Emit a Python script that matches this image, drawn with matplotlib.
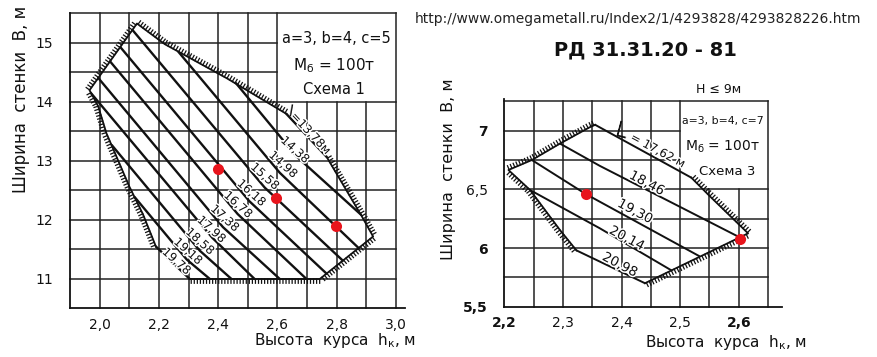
import matplotlib
matplotlib.use("Agg")
import matplotlib.pyplot as plt
from matplotlib import patheffects as pe

INK = "#111111"
GRID = "#222222"
DOT = "#e8141c"

# ---------------- Схема 1 (left nomogram) ----------------
S1_XTICKS = [2.0, 2.2, 2.4, 2.6, 2.8, 3.0]
S1_XTICKLABELS = ["2,0", "2,2", "2,4", "2,6", "2,8", "3,0"]
S1_YTICKS = [11, 12, 13, 14, 15]
S1_YTICKLABELS = ["11", "12", "13", "14", "15"]
S1_GRID_X = [2.0, 2.1, 2.2, 2.3, 2.4, 2.5, 2.6, 2.7, 2.8, 2.9, 3.0]
S1_GRID_Y = [11.0, 11.5, 12.0, 12.5, 13.0, 13.5, 14.0, 14.5, 15.0, 15.5]

# hatched boundary pieces (walked clockwise)
S1_EDGE_A_X = [2.19, 2.146, 2.10, 2.023, 1.995, 1.966, 2.126, 2.22, 2.43, 2.63]
S1_EDGE_A_Y = [11.55, 12.10, 12.57, 13.47, 13.93, 14.20, 15.33, 14.98, 14.40, 13.80]
S1_EDGE_B_X = [2.766, 2.885, 2.923, 2.743, 2.304]
S1_EDGE_B_Y = [13.07, 12.06, 11.72, 11.00, 11.00]

# lines of constant L, m
S1_L_LABELS = ["13,78", "14,38", "14,98", "15,58", "16,18", "16,78",
               "17,38", "17,98", "18,58", "19,18", "19,78"]
S1_LINES_X = [
    [2.63, 2.766],
    [2.46, 2.664, 2.882],
    [2.266, 2.608, 2.875],
    [2.111, 2.557, 2.821],
    [2.070, 2.505, 2.766],
    [2.035, 2.466, 2.698],
    [1.995, 2.416, 2.608],
    [1.971, 2.380, 2.523],
    [2.041, 2.338, 2.445],
    [2.118, 2.294, 2.372],
    [2.19, 2.304],
]
S1_LINES_Y = [
    [13.80, 13.07],
    [14.32, 13.08, 12.09],
    [14.85, 12.80, 11.52],
    [15.22, 12.55, 11.31],
    [14.93, 12.32, 11.09],
    [14.69, 12.10, 11.00],
    [14.41, 11.88, 11.00],
    [14.15, 11.70, 11.00],
    [13.27, 11.48, 11.00],
    [12.39, 11.33, 11.00],
    [11.55, 11.00],
]
S1_LABEL_X = [2.712, 2.659, 2.619, 2.557, 2.512, 2.467, 2.422, 2.377, 2.338, 2.298, 2.259]
S1_LABEL_Y = [13.47, 13.19, 12.94, 12.74, 12.46, 12.26, 12.03, 11.84, 11.64, 11.47, 11.30]

S1_DOTS_X = [2.40, 2.595, 2.797]
S1_DOTS_Y = [12.87, 12.38, 11.89]

# ---------------- Схема 3 (right nomogram) ----------------
S3_XTICKS = [2.2, 2.3, 2.4, 2.5, 2.6]
S3_XTICKLABELS = ["2,2", "2,3", "2,4", "2,5", "2,6"]
S3_YTICKS = [5.5, 6.0, 6.5, 7.0]
S3_YTICKLABELS = ["5,5", "6", "6,5", "7"]
S3_GRID_X = [2.25, 2.3, 2.35, 2.4, 2.45, 2.5, 2.55, 2.6, 2.65]
S3_GRID_Y = [5.75, 6.0, 6.25, 6.5, 6.75, 7.0, 7.25]

S3_EDGE_A_X = [2.323, 2.295, 2.244, 2.207, 2.247, 2.295, 2.346, 2.355]
S3_EDGE_A_Y = [5.98, 6.153, 6.494, 6.665, 6.75, 6.89, 7.03, 7.05]
S3_EDGE_B_X = [2.519, 2.551, 2.616, 2.44]
S3_EDGE_B_Y = [6.60, 6.44, 6.125, 5.70]

S3_L_LABELS = ["17,62", "18,46", "19,30", "20,14", "20,98"]
S3_LINES_X = [
    [2.355, 2.519],
    [2.295, 2.363, 2.602],
    [2.247, 2.339, 2.533],
    [2.244, 2.363, 2.485],
    [2.323, 2.44],
]
S3_LINES_Y = [
    [7.05, 6.60],
    [6.89, 6.70, 6.09],
    [6.75, 6.46, 5.93],
    [6.494, 6.168, 5.81],
    [5.98, 5.70],
]
S3_LABEL_X = [2.462, 2.443, 2.423, 2.409, 2.397]
S3_LABEL_Y = [6.83, 6.55, 6.31, 6.08, 5.855]

S3_DOTS_X = [2.339, 2.602]
S3_DOTS_Y = [6.46, 6.077]

HALO = [pe.withStroke(linewidth=2.2, foreground="white")]


def draw_grid(ax, gx, gy, box):
    """Grid with a blank rectangle left for the legend text (box = x0, x1, y0, y1)."""
    bx0, bx1, by0, by1 = box
    y0 = ax.get_ylim()[0]
    x0 = ax.get_xlim()[0]
    for x in gx:
        top = by0 if bx0 < x < bx1 else max(gy)
        ax.plot([x, x], [y0, top], color=GRID, lw=1.1, zorder=1, clip_on=False)
    for y in gy:
        right = bx0 if by0 < y < by1 else max(gx)
        ax.plot([x0, right], [y, y], color=GRID, lw=1.1, zorder=1, clip_on=False)


def hatched(ax, xs, ys):
    ax.plot(xs, ys, color=INK, lw=1.3, zorder=3, clip_on=False,
            path_effects=[pe.withTickedStroke(spacing=2.2, angle=90, length=1.4, linewidth=0.9)])


def style_axes(ax, xticks, xlabels, yticks, ylabels, ypad):
    for side in ("top", "right"):
        ax.spines[side].set_visible(False)
    for side in ("left", "bottom"):
        ax.spines[side].set_color(INK)
        ax.spines[side].set_linewidth(1.3)
    ax.set_xticks(xticks, xlabels)
    ax.set_yticks(yticks, ylabels)
    ax.tick_params(axis="both", length=0, labelsize=10, colors=INK)
    ax.tick_params(axis="x", pad=7)
    ax.tick_params(axis="y", pad=ypad)


def draw_lines(ax, lines_x, lines_y, lw):
    for xs, ys in zip(lines_x, lines_y):
        ax.plot(xs, ys, color=INK, lw=lw, zorder=4, solid_capstyle="round")


def main():
    fig = plt.figure(figsize=(8.78, 3.57), dpi=100)

    # ---- left ----
    ax1 = fig.add_axes([0.0797, 0.1359, 0.3814, 0.8263])
    ax1.set_xlim(1.9, 3.03)
    ax1.set_ylim(10.5, 15.5)
    style_axes(ax1, S1_XTICKS, S1_XTICKLABELS, S1_YTICKS, S1_YTICKLABELS, 12)
    draw_grid(ax1, S1_GRID_X, S1_GRID_Y, (2.6, 3.0, 14.0, 15.5))
    hatched(ax1, S1_EDGE_A_X, S1_EDGE_A_Y)
    hatched(ax1, S1_EDGE_B_X, S1_EDGE_B_Y)
    draw_lines(ax1, S1_LINES_X, S1_LINES_Y, 1.7)
    for i, (lab, x, y) in enumerate(zip(S1_L_LABELS, S1_LABEL_X, S1_LABEL_Y)):
        txt = "=" + lab + "м" if i == 0 else lab
        ax1.text(x, y, txt, rotation=-47 if i == 0 else -42, fontsize=8.5,
                 ha="center", va="center", color=INK, zorder=5, rotation_mode="anchor",
                 path_effects=HALO)
    ax1.text(2.652, 13.83, "L", fontsize=11, ha="center", va="center", color=INK, rotation=-10)
    ax1.plot(S1_DOTS_X, S1_DOTS_Y, "o", color=DOT, ms=8, mec="none", zorder=6)
    ax1.text(2.80, 15.08, "a=3, b=4, c=5", fontsize=10.5, ha="center", va="center", color=INK)
    ax1.text(2.79, 14.62, "M$_\\mathregular{б}$ = 100т", fontsize=11, ha="center", va="center", color=INK)
    ax1.text(2.79, 14.21, "Схема 1", fontsize=10.5, ha="center", va="center", color=INK)
    ax1.set_xlabel("Высота  курса  h$_\\mathregular{к}$, м", fontsize=11, color=INK)
    ax1.xaxis.set_label_coords(0.79, -0.075)
    ax1.set_ylabel("Ширина  стенки  В, м", fontsize=12, color=INK)
    ax1.yaxis.set_label_coords(-0.118, 0.71)

    # ---- right ----
    ax3 = fig.add_axes([0.5744, 0.1409, 0.3157, 0.5818])
    ax3.set_xlim(2.2, 2.673)
    ax3.set_ylim(5.5, 7.27)
    style_axes(ax3, S3_XTICKS, S3_XTICKLABELS, S3_YTICKS, S3_YTICKLABELS, 12)
    for t in ax3.get_xticklabels():
        if t.get_text() in ("2,2", "2,6"):
            t.set_fontweight("bold")
    for t in ax3.get_yticklabels():
        if t.get_text() in ("7", "6", "5,5"):
            t.set_fontweight("bold")
    draw_grid(ax3, S3_GRID_X, S3_GRID_Y, (2.5, 2.65, 6.5, 7.25))
    hatched(ax3, S3_EDGE_A_X, S3_EDGE_A_Y)
    hatched(ax3, S3_EDGE_B_X, S3_EDGE_B_Y)
    draw_lines(ax3, S3_LINES_X, S3_LINES_Y, 1.4)
    for i, (lab, x, y) in enumerate(zip(S3_L_LABELS, S3_LABEL_X, S3_LABEL_Y)):
        txt = "= " + lab + " м" if i == 0 else lab
        ax3.text(x, y, txt, rotation=-28, fontsize=8.5 if i == 0 else 9.5,
                 ha="center", va="center", color=INK, zorder=5, rotation_mode="anchor",
                 path_effects=HALO)
    ax3.text(2.40, 6.99, "L", fontsize=15, ha="center", va="center", color=INK, rotation=-15)
    ax3.plot(S3_DOTS_X, S3_DOTS_Y, "o", color=DOT, ms=8, mec="none", zorder=6)
    ax3.text(2.566, 7.35, "H ≤ 9м", fontsize=9, ha="center", va="center", color=INK)
    ax3.text(2.572, 7.08, "a=3, b=4, c=7", fontsize=7.8, ha="center", va="center", color=INK)
    ax3.text(2.572, 6.86, "M$_\\mathregular{б}$ = 100т", fontsize=10, ha="center", va="center", color=INK)
    ax3.text(2.58, 6.65, "Схема 3", fontsize=9.5, ha="center", va="center", color=INK)
    ax3.set_xlabel("Высота  курса  h$_\\mathregular{к}$, м", fontsize=11, color=INK)
    ax3.xaxis.set_label_coords(0.80, -0.125)
    ax3.set_ylabel("Ширина  стенки  В, м", fontsize=11.5, color=INK)
    ax3.yaxis.set_label_coords(-0.175, 0.66)

    # ---- header ----
    fig.text(0.7265, 0.947, "http://www.omegametall.ru/Index2/1/4293828/4293828226.htm",
             fontsize=10, ha="center", va="center", color="#222222")
    fig.text(0.735, 0.86, "РД 31.31.20 - 81", fontsize=14, fontweight="bold",
             ha="center", va="center", color="#111111")

    fig.savefig("out.png", dpi=100)


if __name__ == "__main__":
    main()
